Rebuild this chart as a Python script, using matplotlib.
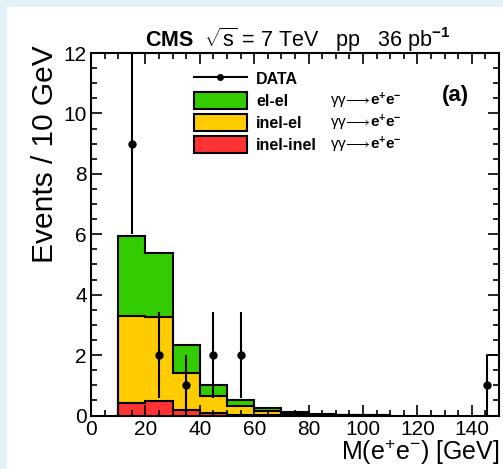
import numpy as np
import matplotlib
matplotlib.use("Agg")
import matplotlib.pyplot as plt
from matplotlib.patches import Patch, Rectangle
from matplotlib.lines import Line2D
from matplotlib.ticker import MultipleLocator

plt.rcParams['font.family'] = ['Liberation Sans', 'DejaVu Sans']
plt.rcParams['mathtext.fontset'] = 'custom'
plt.rcParams['mathtext.rm'] = 'Liberation Sans'
plt.rcParams['mathtext.it'] = 'Liberation Sans:italic'
plt.rcParams['mathtext.bf'] = 'Liberation Sans:bold'

# ---- data ----
bin_edges = [10, 20, 30, 40, 50, 60, 70, 80, 90, 100, 110]
inel_inel = [0.40, 0.47, 0.17, 0.07, 0.02, 0.01, 0.005, 0.002, 0.001, 0.0]
inel_el   = [2.89, 2.78, 1.23, 0.57, 0.31, 0.14, 0.045, 0.02, 0.008, 0.004]
el_el     = [2.66, 2.13, 0.92, 0.38, 0.17, 0.11, 0.05, 0.02, 0.015, 0.01]

data_x = [15, 25, 35, 45, 55, 145.5]
data_y = [9, 2, 1, 2, 2, 1]
data_err = list(np.sqrt(data_y))

overflow_edges = [145.5, 150]
overflow_height = [2]

legend_labels = ['DATA', 'el-el', 'inel-el', 'inel-inel']
process_label = r"γγ$\!\longrightarrow\!\mathbf{e}^{\mathbf{+}}\mathbf{e}^{\mathbf{-}}$"

c_green = '#33cc00'
c_yellow = '#ffcc00'
c_red = '#ff3333'

W, H = 503, 469
fig = plt.figure(figsize=(W / 100, H / 100), dpi=100, facecolor='#e3f1f8')
fig.patches.append(Rectangle((7 / W, 0), 1, 1 - 7 / H, transform=fig.transFigure,
                             facecolor='white', edgecolor='none', zorder=-10))

ax = fig.add_axes([91 / W, 1 - 415.5 / H, 408 / W, 362.5 / H])
ax.set_zorder(1)

red = np.array(inel_inel)
yel = red + np.array(inel_el)
grn = yel + np.array(el_el)

ax.stairs(grn, bin_edges, baseline=yel, fill=True, facecolor=c_green, edgecolor='none')
ax.stairs(yel, bin_edges, baseline=red, fill=True, facecolor=c_yellow, edgecolor='none')
ax.stairs(red, bin_edges, baseline=0, fill=True, facecolor=c_red, edgecolor='none')
for vals in (grn, yel, red):
    ax.stairs(vals, bin_edges, baseline=0, color='black', lw=1.5)

ax.stairs(overflow_height, overflow_edges, baseline=0, color='black', lw=1.2)

ax.errorbar(data_x, data_y, yerr=data_err, fmt='o', color='black', ms=5,
            lw=1.5, capsize=0, zorder=5, clip_on=True)

ax.set_xlim(0, 150)
ax.set_ylim(0, 12)
ax.xaxis.set_major_locator(MultipleLocator(20))
ax.xaxis.set_minor_locator(MultipleLocator(5))
ax.yaxis.set_major_locator(MultipleLocator(2))
ax.yaxis.set_minor_locator(MultipleLocator(0.5))
ax.tick_params(which='both', direction='in', top=True, right=True, width=1.2,
               labelsize=15, colors='black')
ax.tick_params(which='major', length=8, pad=3)
ax.tick_params(which='minor', length=4)
for s in ax.spines.values():
    s.set_linewidth(1.5)

fig.text(500 / W, 1 - 452 / H, r"M(e$^{+}$e$^{-}$) [GeV]", fontsize=18,
         ha='right', va='center')
fig.text(45 / W, 1 - 45 / H, "Events / 10 GeV", fontsize=21.5, rotation=90,
         ha='center', va='top')
fig.text(298 / W, 1 - 40 / H,
         r"$\mathbf{CMS}$  $\sqrt{\mathrm{s}}$ = 7 TeV   pp   36 pb$^{\mathbf{-1}}$",
         fontsize=15.5, ha='center', va='center')
fig.text(455 / W, 1 - 95 / H, "(a)", fontsize=16, fontweight='bold',
         ha='center', va='center')

handles = [Line2D([], [], color='black', marker='o', ms=4, lw=1.5),
           Patch(facecolor=c_green, edgecolor='black', lw=1.5),
           Patch(facecolor=c_yellow, edgecolor='black', lw=1.5),
           Patch(facecolor=c_red, edgecolor='black', lw=1.5)]
leg = fig.legend(handles, legend_labels, loc='upper left',
                 bbox_to_anchor=(194 / W, 1 - 70 / H),
                 frameon=False, prop={'weight': 'bold', 'size': 11.5},
                 handlelength=3.3, handleheight=1.25, labelspacing=0.32,
                 handletextpad=0.6, borderpad=0, borderaxespad=0)
leg.set_zorder(6)

fig.canvas.draw()
inv = fig.transFigure.inverted()
for t in leg.get_texts()[1:]:
    bb = t.get_window_extent()
    yc = (bb.y0 + bb.y1) / 2
    x, y = inv.transform((330, yc))
    fig.text(330 / W, y, process_label, fontsize=11, ha='left', va='center',
             zorder=6)

fig.savefig('out.png', dpi=100, facecolor=fig.get_facecolor())
